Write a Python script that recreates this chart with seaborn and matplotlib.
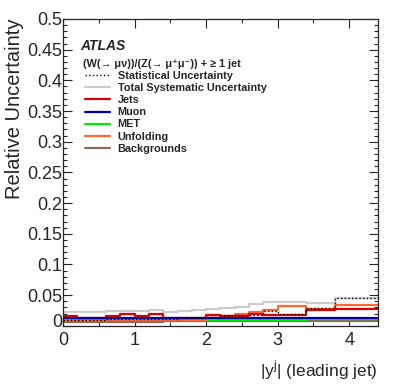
import numpy as np
import pandas as pd
import matplotlib
matplotlib.use("Agg")
import matplotlib.pyplot as plt
import matplotlib.transforms as mtransforms
import seaborn as sns
from matplotlib.ticker import MultipleLocator, FuncFormatter

# bin edges of |y| (leading jet)
edges = [0.0, 0.2, 0.4, 0.6, 0.8, 1.0, 1.2, 1.4, 1.6, 1.8, 2.0,
         2.2, 2.4, 2.6, 2.8, 3.0, 3.4, 3.8, 4.4]

stat = [0.010, 0.010, 0.010, 0.011, 0.011, 0.011, 0.011, 0.011, 0.012,
        0.012, 0.014, 0.018, 0.017, 0.018, 0.0245, 0.019, 0.029, 0.045]
total_syst = [0.023, 0.022, 0.022, 0.024, 0.025, 0.025, 0.026, 0.023, 0.025,
              0.026, 0.027, 0.029, 0.031, 0.036, 0.039, 0.039, 0.038, 0.046]
jets = [0.0165, 0.0125, 0.0125, 0.0165, 0.0187, 0.0165, 0.019, 0.013, 0.012,
        0.012, 0.0176, 0.0165, 0.0165, 0.019, 0.0176, 0.0176, 0.0256, 0.0267]
muon = [0.013, 0.013, 0.013, 0.013, 0.013, 0.013, 0.013, 0.013, 0.013,
        0.013, 0.013, 0.013, 0.013, 0.013, 0.0125, 0.0125, 0.013, 0.013]
met = [0.009, 0.010, 0.010, 0.010, 0.009, 0.010, 0.010, 0.009, 0.009,
       0.009, 0.009, 0.009, 0.0096, 0.009, 0.009, 0.0096, 0.011, 0.011]
unfolding = [0.009, 0.009, 0.009, 0.009, 0.009, 0.009, 0.009, 0.009, 0.010,
             0.010, 0.012, 0.0165, 0.019, 0.023, 0.026, 0.0325, 0.028, 0.034]
backgrounds = [0.007, 0.007, 0.007, 0.007, 0.007, 0.007, 0.007, 0.0085, 0.008,
               0.008, 0.008, 0.008, 0.008, 0.008, 0.008, 0.008, 0.008, 0.008]

series = {
    "Statistical Uncertainty": (stat, "black", ":", 1.0),
    "Total Systematic Uncertainty": (total_syst, "#cccccc", "-", 1.6),
    "Jets": (jets, "#dd0000", "-", 1.6),
    "Muon": (muon, "#0000aa", "-", 1.6),
    "MET": (met, "#00ee00", "-", 1.6),
    "Unfolding": (unfolding, "#ff6633", "-", 1.6),
    "Backgrounds": (backgrounds, "#8c6a5a", "-", 1.6),
}
draw_order = ["Total Systematic Uncertainty", "Backgrounds", "MET", "Unfolding",
              "Jets", "Muon", "Statistical Uncertainty"]

sns.set_style("ticks")
plt.rcParams["font.family"] = ["Liberation Sans", "DejaVu Sans"]

fig = plt.figure(figsize=(3.99, 3.87), dpi=100)
ax = fig.add_axes([0.158, 0.158, 0.789, 0.793])

for name in draw_order:
    vals, color, ls, lw = series[name]
    df = pd.DataFrame({"x": edges, "y": list(vals) + [vals[-1]]})
    sns.lineplot(data=df, x="x", y="y", color=color, linestyle=ls, linewidth=lw,
                 drawstyle="steps-post", estimator=None, ax=ax, label=name)

h, l = ax.get_legend_handles_labels()
lookup = dict(zip(l, h))
order = list(series.keys())
leg = ax.legend([lookup[k] for k in order], order,
                loc="upper left", bbox_to_anchor=(0.07, 0.831),
                frameon=False, borderpad=0, borderaxespad=0,
                handlelength=2.3, handletextpad=0.7, labelspacing=0.2,
                prop={"size": 7.8, "weight": "bold"})

ax.text(0.056, 0.899, "ATLAS", transform=ax.transAxes, fontsize=10,
        fontweight="bold", fontstyle="italic", va="baseline")
ax.text(0.0635, 0.854, "(W(\u2192 \u03bc\u03bd))/(Z(\u2192 \u03bc\u207a\u03bc\u207b)) + \u2265 1 jet",
        transform=ax.transAxes, fontsize=7.8, fontweight="bold", va="center")

ax.set_xlim(0, 4.4)
ax.set_ylim(0, 0.5)
ax.xaxis.set_major_locator(MultipleLocator(1))
ax.xaxis.set_minor_locator(MultipleLocator(0.5))
ax.yaxis.set_major_locator(MultipleLocator(0.05))
ax.yaxis.set_minor_locator(MultipleLocator(0.01))
ax.yaxis.set_major_formatter(FuncFormatter(lambda v, p: f"{v:g}"))
ax.tick_params(which="both", direction="in", top=True, right=True, labelsize=13)
ax.tick_params(which="major", length=6.5, width=0.8)
ax.tick_params(axis="y", which="major", pad=0.5)
ax.tick_params(axis="x", which="major", pad=4.5)
ax.tick_params(which="minor", length=3.2, width=0.8)
for s in ax.spines.values():
    s.set_linewidth(0.9)

ax.set_xlabel("|y$^{\\mathregular{j}}$| (leading jet)", fontsize=12.5, ha="right", x=1.0,
              labelpad=7)
ax.set_ylabel("Relative Uncertainty", fontsize=14.5, ha="right", y=1.0, labelpad=2)

# ROOT-style: lift the y "0" label a little so it sits above the x "0"
fig.canvas.draw()
for tick in ax.yaxis.get_major_ticks():
    if abs(tick.get_loc()) < 1e-9:
        lab = tick.label1
        lab.set_transform(lab.get_transform()
                          + mtransforms.ScaledTranslation(0, 3.5 / 72, fig.dpi_scale_trans))

fig.savefig("out.png", dpi=100)
